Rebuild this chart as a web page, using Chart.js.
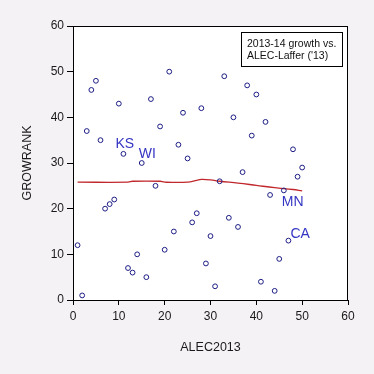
<!DOCTYPE html>
<html>
<head>
<meta charset="utf-8">
<script src="https://cdn.jsdelivr.net/npm/chart.js@4/dist/chart.umd.min.js"></script>
<style>
html,body{margin:0;padding:0;background:#f5f2f5;}
#wrap{width:374px;height:374px;}
</style>
</head>
<body>
<div id="wrap"><canvas id="c" width="374" height="374"></canvas></div>
<script>
'use strict';
// ALEC-Laffer 2013 rank (x) vs growth rank (y)
const alecRank=[1,2,3,4,5,6,7,8,9,10,11,12,13,14,15,16,17,18,19,20,21,22,23,24,25,26,27,28,29,30,31,32,33,34,35,36,37,38,39,40,41,42,43,44,45,46,47,48,49,50];
const growRank=[12,1,37,46,48,35,20,21,22,43,32,7,6,10,30,5,44,25,38,11,50,15,34,41,31,17,19,42,8,14,3,26,49,18,40,16,28,47,36,45,4,39,23,2,9,24,13,33,27,29];
// smoothed fit
const fitX=[1,12,13,19,20,25,27,28,30,32,36,40,44,48,50];
const fitY=[25.8,25.8,26.0,26.0,25.8,25.8,26.2,26.4,26.3,26.0,25.6,25.1,24.6,24.2,23.9];
const stateNames=['KS','WI','MN','CA'];
const stateX=[11,15,46,47];
const xTicks=[0,10,20,30,40,50,60];
const yTicks=[0,10,20,30,40,50,60];
const noteLines=['2013-14 growth vs.',"ALEC-Laffer ('13)"];

const FONT='"Liberation Sans", Arial, sans-serif';
// label offsets relative to the marker, px
const labelOffsets={KS:[-8,-3],WI:[-3,-2],MN:[-2,19],CA:[2,1]};

const points=alecRank.map((x,i)=>({x,y:growRank[i]}));
const fit=fitX.map((x,i)=>({x,y:fitY[i]}));

const framePlugin={
  id:'frame',
  beforeDraw(chart){
    const {ctx,chartArea:a}=chart;
    ctx.save();
    ctx.fillStyle='#ffffff';
    ctx.fillRect(a.left,a.top,a.right-a.left,a.bottom-a.top);
    ctx.restore();
  },
  afterDraw(chart){
    const {ctx,chartArea:a,scales}=chart;
    ctx.save();
    ctx.strokeStyle='#000';
    ctx.lineWidth=1;
    ctx.strokeRect(a.left+0.5,a.top+0.5,a.right-a.left-1,a.bottom-a.top);
    // state labels
    ctx.fillStyle='#3535c4';
    ctx.font='14px '+FONT;
    ctx.textBaseline='bottom';
    ctx.textAlign='left';
    stateNames.forEach((name,i)=>{
      const xv=stateX[i];
      const yv=growRank[alecRank.indexOf(xv)];
      const px=scales.x.getPixelForValue(xv);
      const py=scales.y.getPixelForValue(yv);
      const o=labelOffsets[name];
      ctx.fillText(name,px+o[0],py+o[1]);
    });
    // note box
    const bx=241,by=32,bw=101,bh=34;
    ctx.fillStyle='#fff';
    ctx.fillRect(bx,by,bw,bh);
    ctx.strokeStyle='#000';
    ctx.strokeRect(bx+0.5,by+0.5,bw,bh);
    ctx.fillStyle='#111';
    ctx.font='10.5px '+FONT;
    ctx.textBaseline='middle';
    noteLines.forEach((t,i)=>ctx.fillText(t,bx+6,by+12+i*12.5));
    ctx.restore();
  }
};

new Chart(document.getElementById('c'),{
  type:'scatter',
  data:{datasets:[
    {label:'GROWRANK',data:points,pointStyle:'circle',pointRadius:2.4,pointHoverRadius:2.4,borderWidth:1,borderColor:'#1d1d86',backgroundColor:'rgba(0,0,0,0)'},
    {type:'line',label:'fit',data:fit,borderColor:'#c0282d',borderWidth:1.3,pointRadius:0,tension:0.4,fill:false}
  ]},
  options:{
    responsive:false,
    animation:false,
    devicePixelRatio:1,
    layout:{padding:{left:0,top:26,right:26,bottom:0}},
    plugins:{legend:{display:false},tooltip:{enabled:false}},
    scales:{
      x:{
        type:'linear',min:0,max:60,
        afterFit:s=>{s.height=74;},
        afterBuildTicks:s=>{s.ticks=xTicks.map(v=>({value:v}));},
        grid:{drawOnChartArea:false,drawTicks:true,tickLength:5,color:'#000'},
        border:{display:true,color:'#000'},
        ticks:{color:'#1a1a1a',font:{family:FONT,size:12},padding:4,maxRotation:0},
        title:{display:true,text:'ALEC2013',color:'#1a1a1a',font:{family:FONT,size:12.5},padding:{bottom:19}}
      },
      y:{
        type:'linear',min:0,max:60,
        afterFit:s=>{s.width=73;},
        afterBuildTicks:s=>{s.ticks=yTicks.map(v=>({value:v}));},
        grid:{drawOnChartArea:false,drawTicks:true,tickLength:6,color:'#000'},
        border:{display:true,color:'#000'},
        ticks:{color:'#1a1a1a',font:{family:FONT,size:12},padding:3},
        title:{display:true,text:'GROWRANK',color:'#1a1a1a',font:{family:FONT,size:12.5},padding:{top:20}}
      }
    }
  },
  plugins:[framePlugin]
});
</script>
</body>
</html>
